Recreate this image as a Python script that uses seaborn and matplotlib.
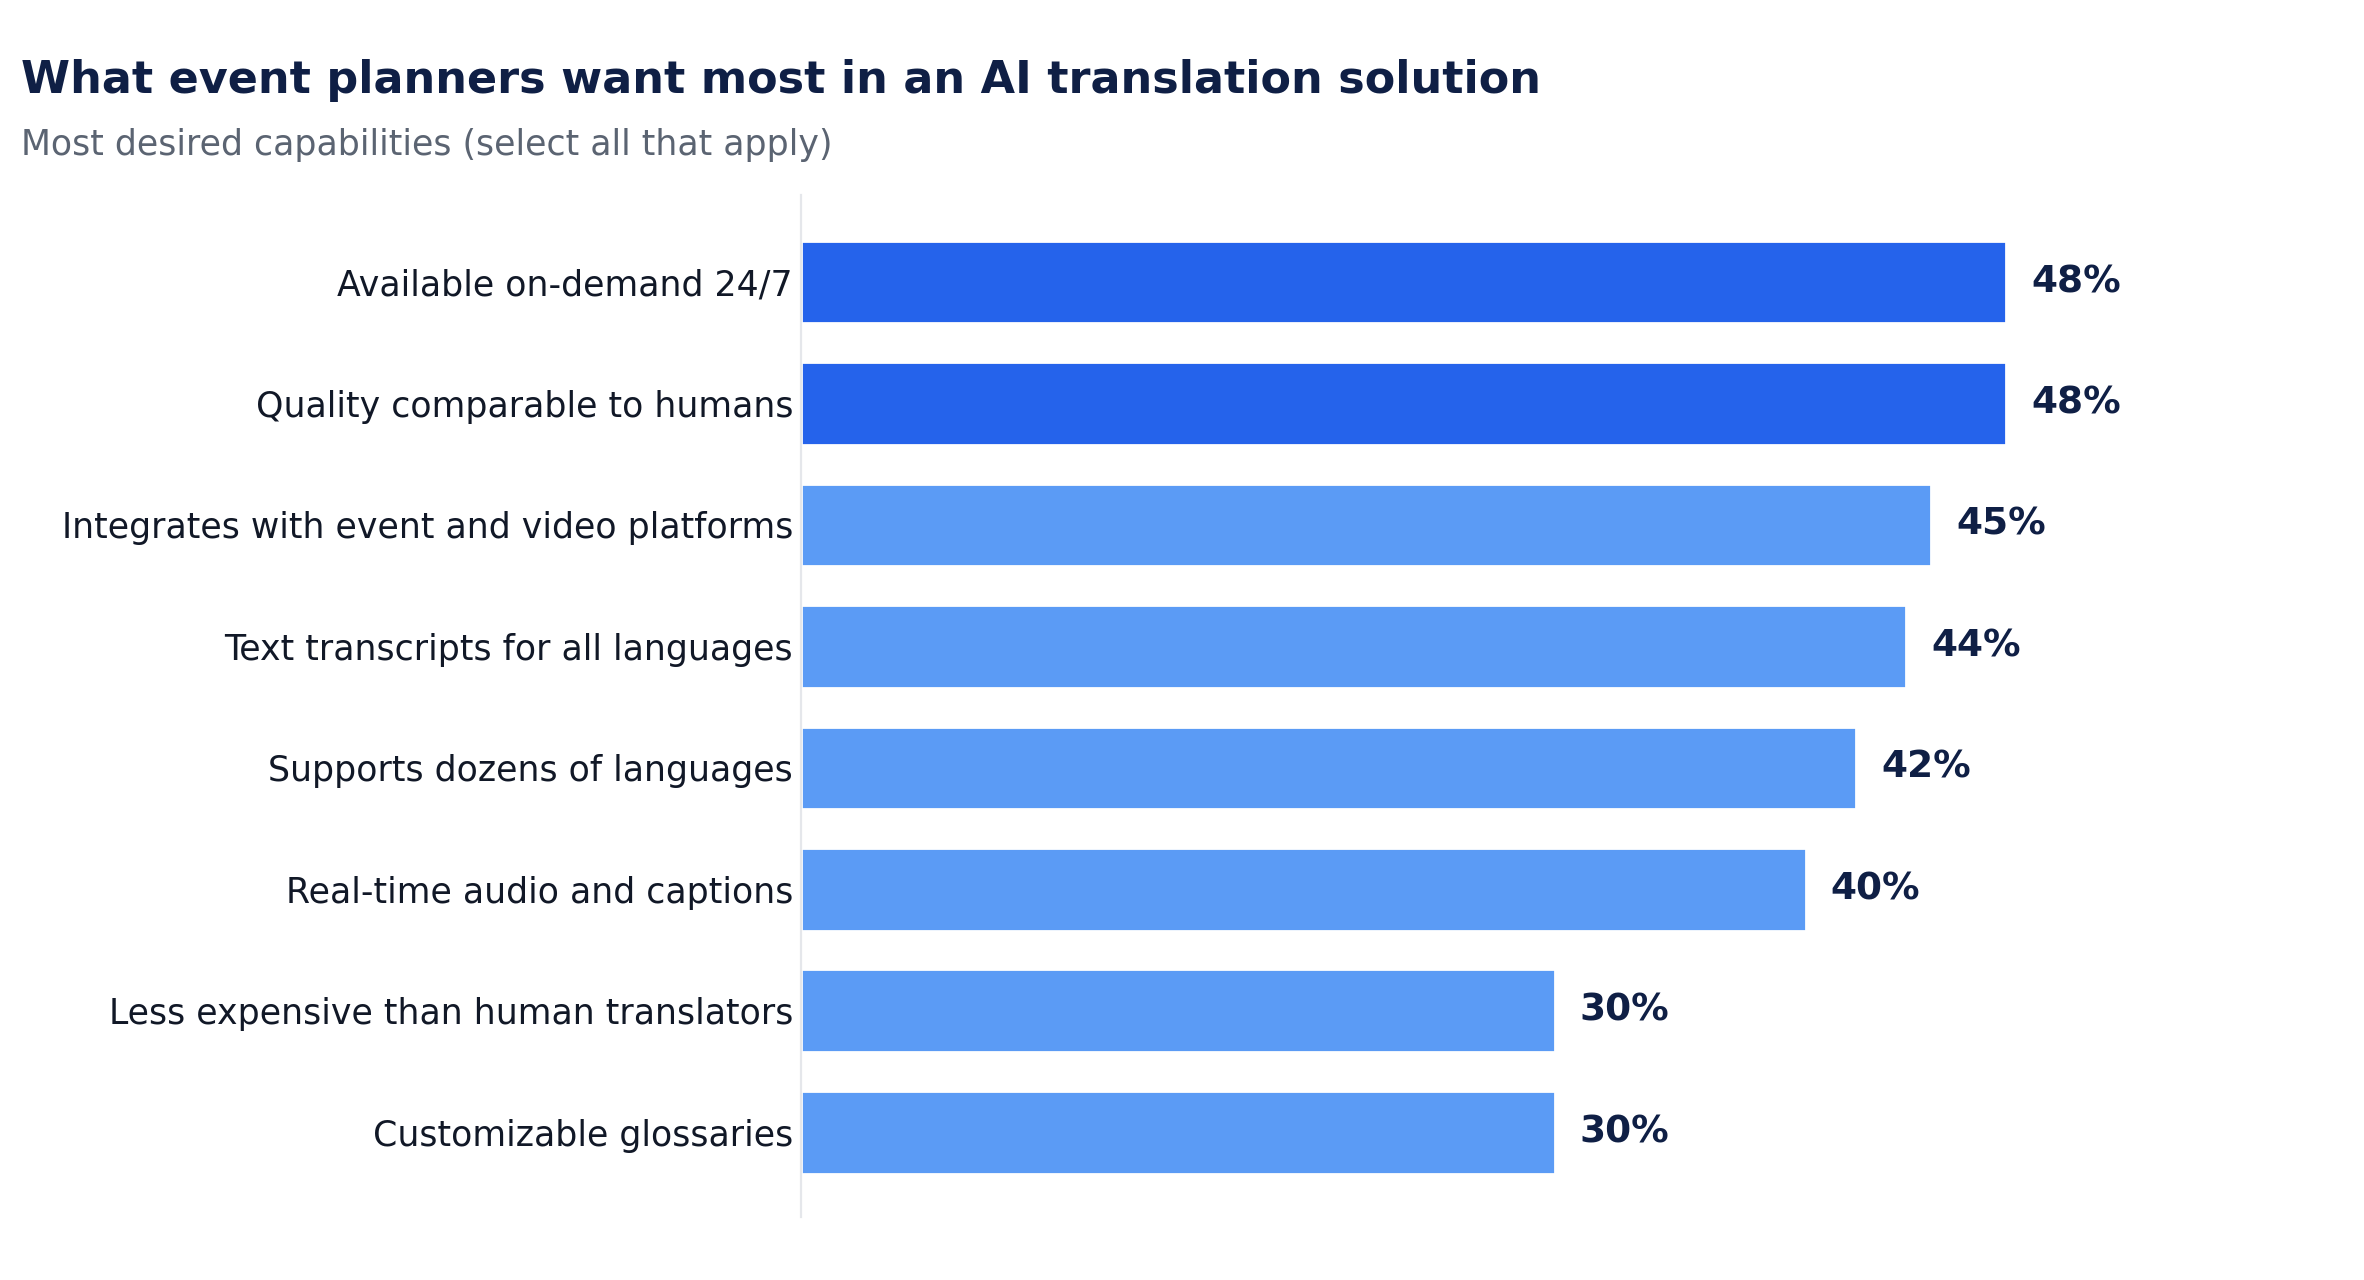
import seaborn as sns
import matplotlib.pyplot as plt
import pandas as pd

# Survey data
capabilities = [
    "Available on-demand 24/7",
    "Quality comparable to humans",
    "Integrates with event and video platforms",
    "Text transcripts for all languages",
    "Supports dozens of languages",
    "Real-time audio and captions",
    "Less expensive than human translators",
    "Customizable glossaries",
]
shares = [48, 48, 45, 44, 42, 40, 30, 30]
highlighted = [True, True, False, False, False, False, False, False]

title = "What event planners want most in an AI translation solution"
subtitle = "Most desired capabilities (select all that apply)"

DARK_BLUE = "#2563eb"
LIGHT_BLUE = "#5b9bf5"
NAVY = "#0f1f45"
TEXT = "#111827"
GREY = "#5b6472"

df = pd.DataFrame({"capability": capabilities, "share": shares, "top": highlighted})
palette = [DARK_BLUE if h else LIGHT_BLUE for h in df["top"]]

sns.set_theme(style="white")
plt.rcParams["font.family"] = ["DejaVu Sans"]

fig = plt.figure(figsize=(11.82, 6.4), dpi=200)
ax = fig.add_axes([0.339, 0.049, 0.60, 0.799])

sns.barplot(data=df, y="capability", x="share", hue="capability",
            palette=palette, legend=False, width=0.68, saturation=1,
            ax=ax)

for i, v in enumerate(df["share"]):
    ax.text(v + 1.0, i, f"{v}%", va="center", ha="left",
            fontsize=13.5, fontweight="bold", color=NAVY)

ax.set_xlim(0, 56.5)
ax.set_ylim(len(df) - 1 + 0.7, -0.72)
ax.set_xlabel("")
ax.set_ylabel("")
ax.set_xticks([])
ax.tick_params(axis="y", length=0, pad=3, labelsize=12.5, labelcolor=TEXT)

for side in ["top", "right", "bottom"]:
    ax.spines[side].set_visible(False)
ax.spines["left"].set_color("#e5e7eb")
ax.spines["left"].set_linewidth(0.8)

fig.text(0.009, 0.927, title, fontsize=16, fontweight="bold", color=NAVY,
         ha="left", va="baseline")
fig.text(0.009, 0.879, subtitle, fontsize=12.5, color=GREY,
         ha="left", va="baseline")

fig.savefig("out.png", dpi=200, facecolor="white")
